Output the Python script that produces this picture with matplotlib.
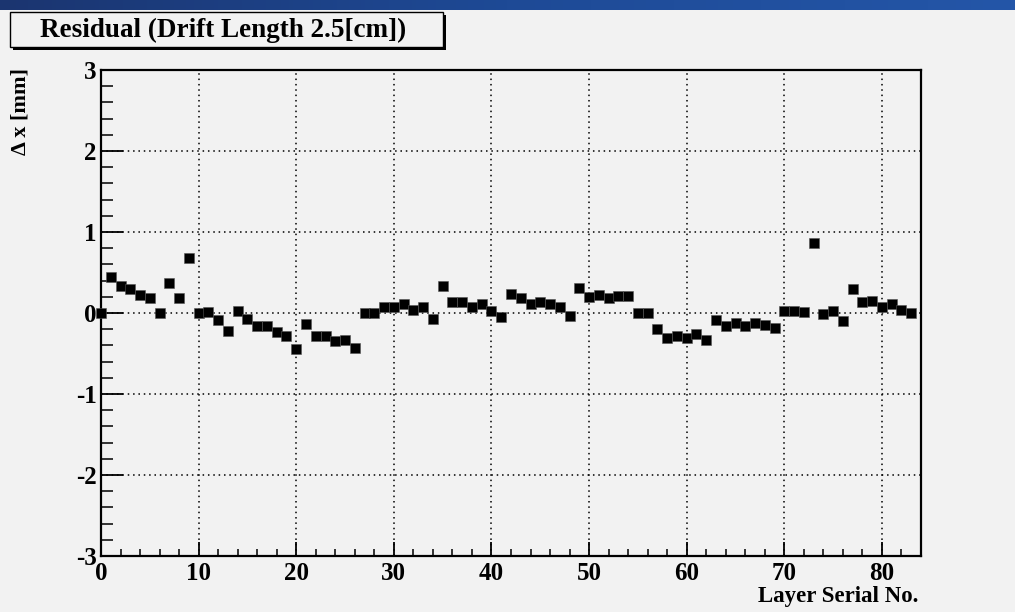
import numpy as np
import matplotlib
matplotlib.use("Agg")
import matplotlib.pyplot as plt
from matplotlib.patches import Rectangle
from matplotlib.ticker import MultipleLocator
from matplotlib.colors import LinearSegmentedColormap

plt.rcParams["axes.unicode_minus"] = False

layer = list(range(84))
residual = [0.00, 0.44, 0.33, 0.30, 0.22, 0.18, 0.00, 0.37, 0.19, 0.68,
            0.00, 0.01, -0.09, -0.22, 0.03, -0.07, -0.16, -0.16, -0.24, -0.29,
            -0.45, -0.14, -0.28, -0.28, -0.34, -0.33, -0.43, 0.00, 0.00, 0.07,
            0.07, 0.11, 0.04, 0.07, -0.07, 0.33, 0.14, 0.14, 0.07, 0.11,
            0.03, -0.05, 0.24, 0.18, 0.11, 0.14, 0.11, 0.08, -0.04, 0.31,
            0.20, 0.22, 0.18, 0.21, 0.21, 0.00, 0.00, -0.20, -0.31, -0.28,
            -0.31, -0.26, -0.33, -0.09, -0.16, -0.12, -0.16, -0.12, -0.15, -0.18,
            0.03, 0.02, 0.01, 0.86, -0.01, 0.03, -0.10, 0.30, 0.14, 0.15,
            0.08, 0.11, 0.04, 0.00]
title = "Residual (Drift Length 2.5[cm])"
xlabel = "Layer Serial No."
ylabel = "\u0394 x [mm]"

BG = "#f2f2f2"
serif = ["Liberation Serif", "DejaVu Serif"]

fig = plt.figure(figsize=(10.15, 6.12), dpi=100, facecolor=BG)
W, H = 1015, 612

# blue gradient banner at top
band = fig.add_axes([0, 1 - 10 / H, 1, 10 / H])
grad = np.linspace(0, 1, 256).reshape(1, -1)
cmap = LinearSegmentedColormap.from_list("b", ["#1b3570", "#1e4a96", "#2456a8"])
band.imshow(grad, aspect="auto", cmap=cmap, extent=[0, 1, 0, 1])
band.axis("off")

ax = fig.add_axes([101 / W, 1 - 556 / H, (921 - 101) / W, (556 - 70) / H])
ax.set_facecolor(BG)
ax.plot(layer, residual, linestyle="none", marker="s", markersize=7.9,
        color="black", markeredgewidth=0.4, markeredgecolor="#555555",
        clip_on=False, zorder=3)
ax.set_xlim(0, 84)
ax.set_ylim(-3, 3)
ax.xaxis.set_major_locator(MultipleLocator(10))
ax.xaxis.set_minor_locator(MultipleLocator(2))
ax.yaxis.set_major_locator(MultipleLocator(1))
ax.yaxis.set_minor_locator(MultipleLocator(0.2))
ax.grid(True, which="major", linestyle=(0, (1, 2.5)), color="black", linewidth=1.1)
ax.tick_params(axis="x", which="major", direction="in", length=10, width=1.3,
               top=False, pad=4)
ax.tick_params(axis="x", which="minor", direction="in", length=5, width=1.1, top=False)
ax.tick_params(axis="y", which="major", direction="in", length=16, width=1.3,
               right=False, pad=3)
ax.tick_params(axis="y", which="minor", direction="in", length=8.5, width=1.1, right=False)
for sp in ax.spines.values():
    sp.set_linewidth(1.6)
for lab in ax.get_xticklabels() + ax.get_yticklabels():
    lab.set_fontfamily(serif)
    lab.set_fontweight("bold")
    lab.set_fontsize(18)

ax.set_xlabel(xlabel, fontfamily=serif, fontweight="bold", fontsize=16.5)
ax.xaxis.set_label_coords(0.997, -0.062)
ax.xaxis.label.set_horizontalalignment("right")
ax.xaxis.label.set_verticalalignment("top")
ax.set_ylabel(ylabel, fontfamily=serif, fontweight="bold", fontsize=16)
ax.yaxis.set_label_coords(-0.098, 1.005)
ax.yaxis.label.set_horizontalalignment("right")
ax.yaxis.label.set_verticalalignment("center")

# title box with shadow
fig.patches.append(Rectangle((13 / W, 1 - 50 / H), 433 / W, 35 / H,
                             transform=fig.transFigure, facecolor="black",
                             edgecolor="none", zorder=1))
fig.patches.append(Rectangle((10 / W, 1 - 47 / H), 433 / W, 35 / H,
                             transform=fig.transFigure, facecolor=BG,
                             edgecolor="black", linewidth=1.0, zorder=2))
fig.text(223 / W, 1 - 30 / H, title, ha="center", va="center",
         fontfamily=serif, fontweight="bold", fontsize=19.5, zorder=3)

fig.savefig("out.png", dpi=100, facecolor=BG)
